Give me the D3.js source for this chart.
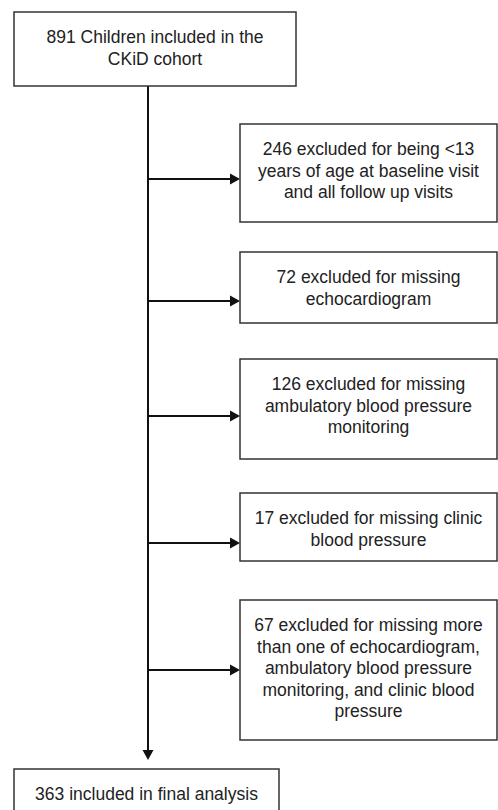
<!DOCTYPE html>
<html>
<head>
<meta charset="utf-8">
<script src="https://cdn.jsdelivr.net/npm/d3@7"></script>
<style>
  html, body { margin: 0; padding: 0; background: #fff; }
  svg { display: block; }
  text { font-family: "Liberation Sans", Arial, sans-serif; fill: #222; }
</style>
</head>
<body>
<svg id="chart" width="498" height="810"></svg>
<script>
// ---- Data ----
const startLines = ["891 Children included in the", "CKiD cohort"];
const exclusionLines = [
  ["246 excluded for being <13", "years of age at baseline visit", "and all follow up visits"],
  ["72 excluded for missing", "echocardiogram"],
  ["126 excluded for missing", "ambulatory blood pressure", "monitoring"],
  ["17 excluded for missing clinic", "blood pressure"],
  ["67 excluded for missing more", "than one of echocardiogram,", "ambulatory blood pressure", "monitoring, and clinic blood", "pressure"]
];
const finalLines = ["363 included in final analysis"];

// ---- Layout ----
const svg = d3.select("#chart");
const fontSize = 17.5, lineH = 21.5, topPad = 25;
const spineX = 148;
const exBoxX0 = 240, exBoxX1 = 497;
const exBoxes = [
  {y0: 124, y1: 222, arrowY: 179},
  {y0: 252, y1: 323, arrowY: 301},
  {y0: 359, y1: 459, arrowY: 416},
  {y0: 493, y1: 561, arrowY: 543},
  {y0: 600, y1: 740, arrowY: 670}
];
const startBox = {x0: 14, x1: 296, y0: 12, y1: 86};
const finalBox = {x0: 14, x1: 279, y0: 769, y1: 818};

function drawBox(b, lines) {
  svg.append("rect")
    .attr("x", b.x0).attr("y", b.y0)
    .attr("width", b.x1 - b.x0).attr("height", b.y1 - b.y0)
    .attr("fill", "#fff").attr("stroke", "#333").attr("stroke-width", 1.5);
  const cx = (b.x0 + b.x1) / 2;
  const t = svg.append("text")
    .attr("text-anchor", "middle")
    .attr("font-size", fontSize);
  lines.forEach((l, i) => {
    t.append("tspan")
      .attr("x", cx)
      .attr("y", b.y0 + topPad + i * lineH)
      .attr("dy", "0.35em")
      .text(l);
  });
}

// spine
svg.append("line")
  .attr("x1", spineX).attr("x2", spineX)
  .attr("y1", startBox.y1).attr("y2", finalBox.y0 - 14)
  .attr("stroke", "#111").attr("stroke-width", 2);
// down arrowhead
const tipY = finalBox.y0 - 9;
svg.append("path")
  .attr("d", d3.line()([[spineX - 5.5, tipY - 10], [spineX + 5.5, tipY - 10], [spineX, tipY]]) + "Z")
  .attr("fill", "#111");

// branch arrows
exBoxes.forEach(b => {
  svg.append("line")
    .attr("x1", spineX).attr("x2", exBoxX0 - 9)
    .attr("y1", b.arrowY).attr("y2", b.arrowY)
    .attr("stroke", "#111").attr("stroke-width", 2);
  svg.append("path")
    .attr("d", d3.line()([[exBoxX0 - 10, b.arrowY - 5.5], [exBoxX0 - 10, b.arrowY + 5.5], [exBoxX0, b.arrowY]]) + "Z")
    .attr("fill", "#111");
});

drawBox(startBox, startLines);
exBoxes.forEach((b, i) => drawBox({x0: exBoxX0, x1: exBoxX1, y0: b.y0, y1: b.y1}, exclusionLines[i]));
drawBox(finalBox, finalLines);
</script>
</body>
</html>
